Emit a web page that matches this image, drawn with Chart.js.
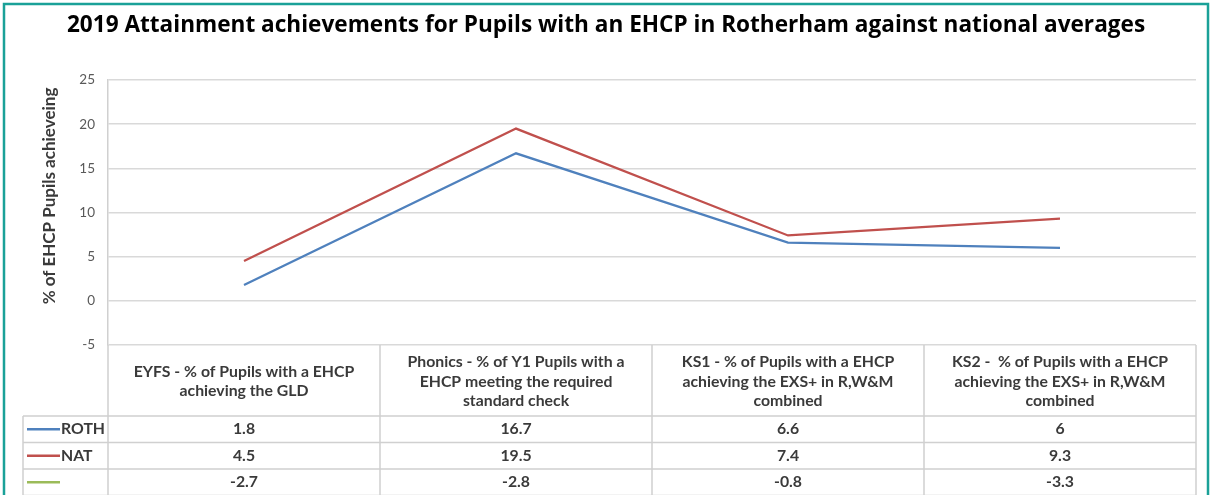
<!DOCTYPE html>
<html lang="en">
<head>
<meta charset="UTF-8" />
<title>EHCP Attainment 2019</title>
<script src="https://cdn.jsdelivr.net/npm/chart.js"></script>
<style>
  html, body { margin: 0; padding: 0; background: #fff; }
</style>
</head>
<body>
<canvas id="attainmentChart" width="1212" height="495"></canvas>
<script>
const titleText = "2019 Attainment achievements for Pupils with an EHCP in Rotherham against national averages";
const yAxisTitle = "% of EHCP Pupils achieveing";
// each category label is split into the lines shown in the table header
const categories = [
  ["EYFS - % of Pupils with a EHCP", "achieving the GLD"],
  ["Phonics - % of Y1 Pupils with a", "EHCP meeting the required", "standard check"],
  ["KS1 - % of Pupils with a EHCP", "achieving the EXS+ in R,W&M", "combined"],
  ["KS2 -  % of Pupils with a EHCP", "achieving the EXS+ in R,W&M", "combined"]
];
const seriesNames = ["ROTH", "NAT", ""];
const rothValues = [1.8, 16.7, 6.6, 6];
const natValues = [4.5, 19.5, 7.4, 9.3];
const gapValues = [-2.7, -2.8, -0.8, -3.3];
const yMin = -5;
const yMax = 25;
const yStep = 5;

const textGrey = "#3a3a3a";

// draws the teal frame, title, y title and the data table under the plot
const tablePlugin = {
  id: "dataTable",
  afterDraw(chart) {
    const ctx = chart.ctx;
    const area = chart.chartArea;
    const xs = chart.scales.x;
    const colW = area.width / categories.length;
    const headBottom = 416;
    const rowH = 26.5;
    const legendLeft = 23;

    ctx.save();
    // frame
    ctx.strokeStyle = "#1aa198";
    ctx.lineWidth = 2.5;
    ctx.strokeRect(4, 4, 1204, 600);

    // title
    ctx.fillStyle = "#000";
    ctx.font = "bold 22.6px 'Open Sans'";
    ctx.textAlign = "center";
    ctx.textBaseline = "middle";
    ctx.fillText(titleText, 606, 26);

    // y axis title
    ctx.save();
    ctx.translate(50, 196);
    ctx.rotate(-Math.PI / 2);
    ctx.font = "bold 17px Lato";
    ctx.fillStyle = textGrey;
    ctx.fillText(yAxisTitle, 0, 0);
    ctx.restore();

    // table lines
    ctx.strokeStyle = "#d0d0d0";
    ctx.lineWidth = 1.5;
    const nRows = chart.data.datasets.length;
    ctx.beginPath();
    for (let r = 0; r <= nRows; r++) {
      const y = headBottom + r * rowH;
      ctx.moveTo(legendLeft, y);
      ctx.lineTo(area.right, y);
    }
    ctx.moveTo(legendLeft, headBottom);
    ctx.lineTo(legendLeft, 500);
    for (let i = 0; i <= categories.length; i++) {
      const x = area.left + i * colW;
      ctx.moveTo(x, area.bottom);
      ctx.lineTo(x, 500);
    }
    ctx.stroke();

    // header labels
    ctx.fillStyle = textGrey;
    ctx.font = "bold 15.8px Lato";
    categories.forEach((lines, i) => {
      const cx = xs.getPixelForValue(i);
      const mid = (area.bottom + headBottom) / 2 + 1;
      const lh = 19.5;
      lines.forEach((ln, k) => {
        ctx.fillText(ln, cx, mid + (k - (lines.length - 1) / 2) * lh);
      });
    });

    // rows
    chart.data.datasets.forEach((ds, r) => {
      const cy = headBottom + r * rowH + rowH / 2;
      ctx.strokeStyle = ds.borderColor;
      ctx.lineWidth = 2.5;
      ctx.beginPath();
      ctx.moveTo(27, cy);
      ctx.lineTo(60, cy);
      ctx.stroke();
      ctx.textAlign = "left";
      ctx.font = "bold 15.8px Lato";
      ctx.fillText(ds.label, 61, cy);
      ctx.textAlign = "center";
      ds.data.forEach((v, i) => {
        ctx.fillText(String(v), xs.getPixelForValue(i), cy);
      });
    });
    ctx.restore();
  }
};

new Chart(document.getElementById("attainmentChart"), {
  type: "line",
  data: {
    labels: categories.map((c) => c.join(" ")),
    datasets: [
      { label: seriesNames[0], data: rothValues, borderColor: "#4f81bd", borderWidth: 2.25, pointRadius: 0, tension: 0 },
      { label: seriesNames[1], data: natValues, borderColor: "#c0504d", borderWidth: 2.25, pointRadius: 0, tension: 0 },
      { label: seriesNames[2], data: gapValues, borderColor: "#9bbb59", borderWidth: 2.25, pointRadius: 0, hidden: true }
    ]
  },
  options: {
    responsive: false,
    animation: false,
    layout: { padding: { left: 0, top: 80, right: 16, bottom: 150 } },
    plugins: {
      legend: { display: false },
      tooltip: { enabled: false }
    },
    scales: {
      x: { display: false, offset: true },
      y: {
        min: yMin,
        max: yMax,
        afterFit(scale) { scale.width = 108; },
        ticks: { stepSize: yStep, padding: 13, color: "#595959", font: { family: "Lato", size: 13.5 } },
        grid: { color: "#d9d9d9", lineWidth: 1.5, drawTicks: false },
        border: { display: true, color: "#d0d0d0", width: 1.5 }
      }
    }
  },
  plugins: [tablePlugin]
});
</script>
</body>
</html>
